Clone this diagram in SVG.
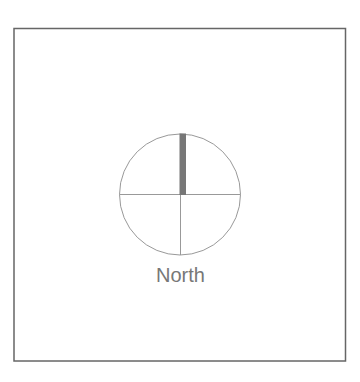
<svg xmlns="http://www.w3.org/2000/svg" width="360" height="382" viewBox="0 0 360 382">
<style>
.frame{fill:#fff;stroke:#666;stroke-width:1.5}
.thin{fill:none;stroke:#999;stroke-width:1}
.bar{fill:#777}
.lbl{font-family:"Liberation Sans",Arial,sans-serif;font-size:20px;fill:#777;text-anchor:middle}
</style>
<rect width="360" height="382" fill="#fff"/>
<g id="frame"><rect class="frame" x="14" y="28.5" width="331.5" height="332.5"/></g>
<g id="compass">
<circle class="thin" cx="180" cy="194.5" r="60.5"/>
<line class="thin" x1="119.5" y1="194.5" x2="240.5" y2="194.5"/>
<line class="thin" x1="180.5" y1="134" x2="180.5" y2="255"/>
<rect class="bar" x="179.5" y="133.5" width="6.5" height="61.5"/>
<text class="lbl" x="180.5" y="281.5">North</text>
</g>
</svg>
